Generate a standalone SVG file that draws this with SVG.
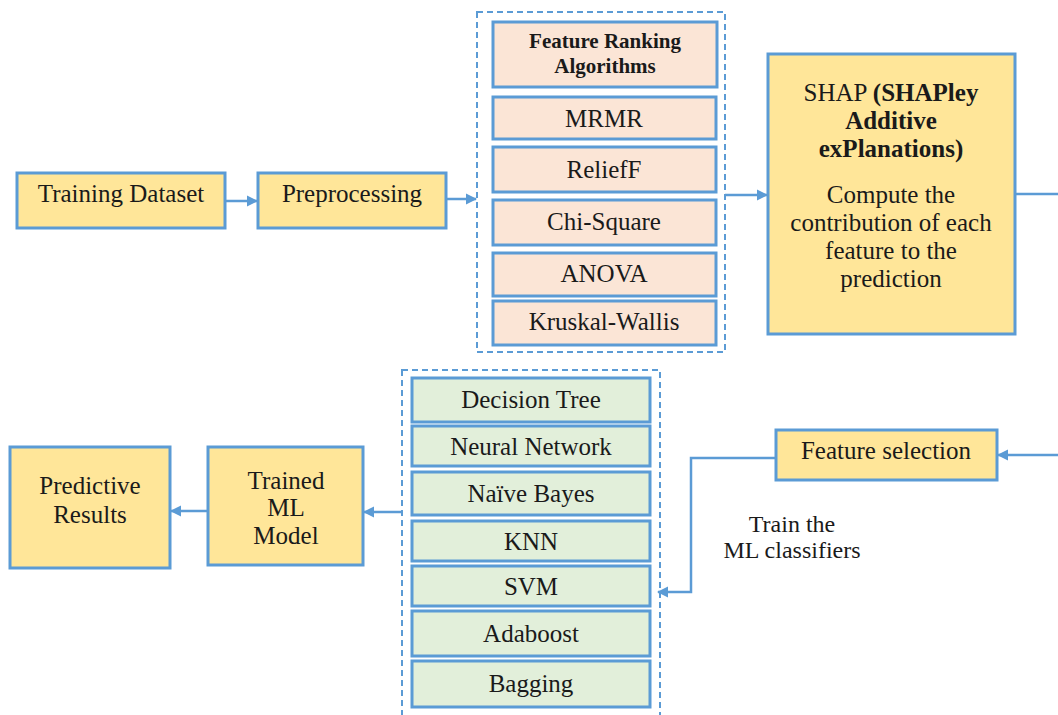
<svg xmlns="http://www.w3.org/2000/svg" width="1058" height="715" viewBox="0 0 1058 715">
<style>
text{font-family:"Liberation Serif","Times New Roman",serif;font-size:25px;fill:#1a1a1a;text-anchor:middle}
.y{fill:#FFE699;stroke:#5B9BD5;stroke-width:3}
.p{fill:#FBE5D6;stroke:#5B9BD5;stroke-width:3}
.g{fill:#E2EFDA;stroke:#5B9BD5;stroke-width:3}
.d{fill:none;stroke:#5B9BD5;stroke-width:2;stroke-dasharray:6 4}
.c{fill:none;stroke:#5B9BD5;stroke-width:2.5}
.b{font-weight:bold}
.s{font-size:21px}
.l{font-size:24px}
</style>
<defs>
<marker id="ah" viewBox="0 0 10 10" refX="9" refY="5" markerWidth="4.5" markerHeight="4.5" orient="auto" markerUnits="strokeWidth">
<path d="M0,0 L10,5 L0,10 z" fill="#5B9BD5"/>
</marker>
</defs>
<rect width="1058" height="715" fill="#fff"/>

<g id="connectors">
<path class="c" d="M225,201 H257" marker-end="url(#ah)"/>
<path class="c" d="M446,199 H476" marker-end="url(#ah)"/>
<path class="c" d="M725,195 H767" marker-end="url(#ah)"/>
<path class="c" d="M1015,194 H1060"/>
<path class="c" d="M1060,455 H998" marker-end="url(#ah)"/>
<path class="c" d="M776,458 H691 V592 H658" marker-end="url(#ah)"/>
<path class="c" d="M402,512 H364" marker-end="url(#ah)"/>
<path class="c" d="M208,511 H171" marker-end="url(#ah)"/>
</g>

<g id="training-dataset">
<rect class="y" x="17" y="173" width="208" height="55"/>
<text x="121" y="202">Training Dataset</text>
</g>
<g id="preprocessing">
<rect class="y" x="258" y="173" width="188" height="55"/>
<text x="352" y="202">Preprocessing</text>
</g>

<g id="feature-ranking">
<rect class="d" x="477" y="12" width="248" height="340"/>
<rect class="p" x="493" y="22" width="224" height="65"/>
<text class="b s" x="605" y="48">Feature Ranking</text>
<text class="b s" x="605" y="73">Algorithms</text>
<rect class="p" x="493" y="97" width="223" height="42"/>
<text x="604" y="127">MRMR</text>
<rect class="p" x="493" y="147" width="223" height="45"/>
<text x="604" y="178">ReliefF</text>
<rect class="p" x="493" y="200" width="223" height="45"/>
<text x="604" y="230">Chi-Square</text>
<rect class="p" x="493" y="253" width="223" height="43"/>
<text x="604" y="282">ANOVA</text>
<rect class="p" x="493" y="301" width="223" height="44"/>
<text x="604" y="330">Kruskal-Wallis</text>
</g>

<g id="shap">
<rect class="y" x="768" y="54" width="247" height="280"/>
<text x="891" y="101">SHAP <tspan class="b">(SHAPley</tspan></text>
<text class="b" x="891" y="129">Additive</text>
<text class="b" x="891" y="157">exPlanations)</text>
<text x="891" y="203">Compute the</text>
<text x="891" y="231">contribution of each</text>
<text x="891" y="259">feature to the</text>
<text x="891" y="287">prediction</text>
</g>

<g id="feature-selection">
<rect class="y" x="776" y="430" width="221" height="50"/>
<text x="886" y="459">Feature selection</text>
</g>

<g id="train-label">
<text x="792" y="532" class="l">Train the</text>
<text x="792" y="558" class="l">ML classifiers</text>
</g>

<g id="classifiers">
<rect class="d" x="402" y="370" width="258" height="350"/>
<rect class="g" x="412" y="378" width="238" height="44"/>
<text x="531" y="408">Decision Tree</text>
<rect class="g" x="412" y="426" width="238" height="40"/>
<text x="531" y="455">Neural Network</text>
<rect class="g" x="412" y="472" width="238" height="43"/>
<text x="531" y="502">Naïve Bayes</text>
<rect class="g" x="412" y="521" width="238" height="40"/>
<text x="531" y="550">KNN</text>
<rect class="g" x="412" y="566" width="238" height="40"/>
<text x="531" y="595">SVM</text>
<rect class="g" x="412" y="611" width="238" height="45"/>
<text x="531" y="642">Adaboost</text>
<rect class="g" x="412" y="661" width="238" height="46"/>
<text x="531" y="692">Bagging</text>
</g>

<g id="trained-model">
<rect class="y" x="208" y="447" width="155" height="118"/>
<text x="286" y="489">Trained</text>
<text x="286" y="516">ML</text>
<text x="286" y="544">Model</text>
</g>

<g id="predictive-results">
<rect class="y" x="10" y="447" width="160" height="121"/>
<text x="90" y="494">Predictive</text>
<text x="90" y="523">Results</text>
</g>
</svg>
